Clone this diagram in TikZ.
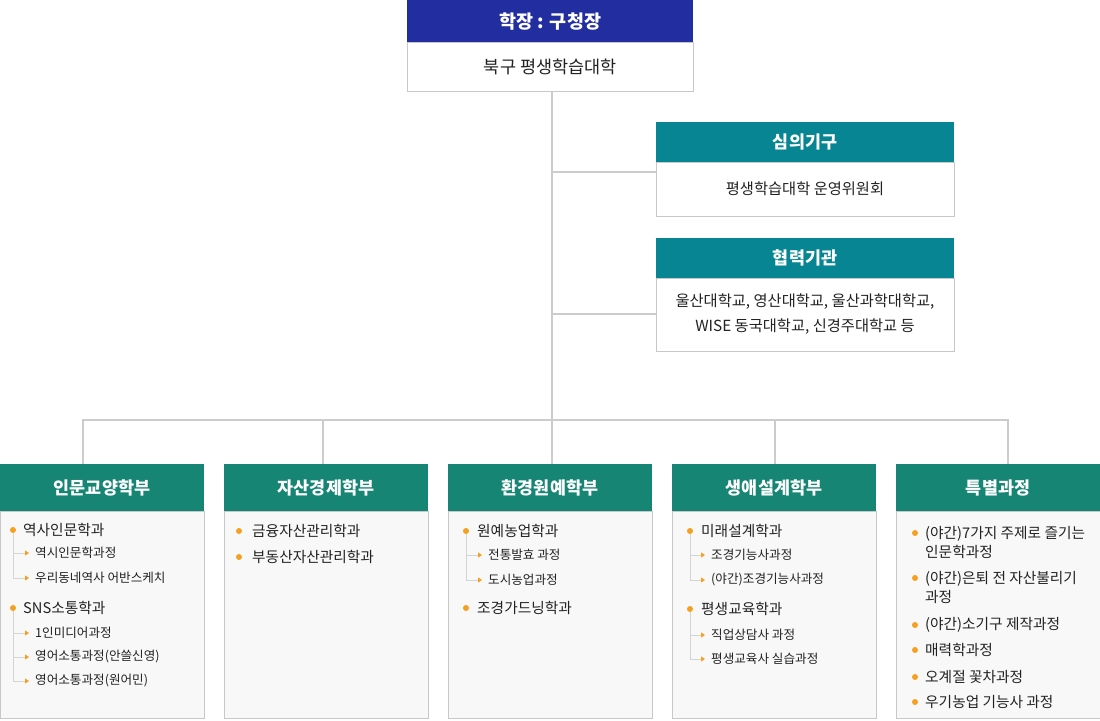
\documentclass[tikz,border=0pt]{standalone}
\usepackage{fontspec}
\setmainfont{Noto Sans CJK KR}
\usetikzlibrary{arrows.meta,calc}
\definecolor{topblue}{HTML}{222EA0}
\definecolor{teal}{HTML}{088592}
\definecolor{grn}{HTML}{168573}
\definecolor{bordergray}{HTML}{C8C8C8}
\definecolor{linegray}{HTML}{CCCCCC}
\definecolor{treegray}{HTML}{D4D4D4}
\definecolor{orng}{HTML}{F5A021}
\definecolor{bodyfill}{HTML}{F8F8F8}
\definecolor{txt}{HTML}{222222}
\tikzset{
  box/.style={inner sep=0pt, outer sep=0pt},
  hdr/.style={box, text=white, font=\fontsize{17.4}{20}\selectfont\bfseries},
  toph/.style={hdr, fill=topblue, minimum width=286pt, minimum height=43pt, font=\fontsize{18.5}{21}\selectfont\bfseries},
  topb/.style={box, draw=bordergray, line width=1pt, fill=white, minimum width=286pt, minimum height=49pt, text=txt, font=\fontsize{17.5}{20}\selectfont},
  sideh/.style={hdr, fill=teal, minimum width=298pt, minimum height=40pt},
  sideb/.style={box, draw=bordergray, line width=1pt, fill=white, minimum width=298pt, text=txt, font=\fontsize{15.3}{25}\selectfont, align=center},
  colh/.style={hdr, fill=grn, minimum width=204pt, minimum height=47pt},
  colb/.style={box, draw=bordergray, line width=1pt, fill=bodyfill, minimum width=204pt, minimum height=207pt},
  conn/.style={draw=linegray, line width=2pt},
  item/.style={anchor=west, inner sep=0pt, text=txt, font=\fontsize{14.7}{19.5}\selectfont, align=left},
  subitem/.style={anchor=west, inner sep=0pt, text=txt, font=\fontsize{12.6}{14}\selectfont},
  bul/.style={circle, fill=orng, inner sep=0pt, minimum size=6pt},
  tree/.style={draw=treegray, line width=0.9pt},
  subarrow/.style={tree, -{Triangle[color=orng, length=4pt, width=5pt]}},
}
\begin{document}
\begin{tikzpicture}[x=1pt,y=-1pt]
\useasboundingbox (0,0) rectangle (1100,720);
% top
\node[toph] (th) at (550.3,21.5) {학장 : 구청장};
\node[topb] (tb) at (550.3,67.3) {북구 평생학습대학};
% side boxes
\node[sideh] (sh) at (805,142) {심의기구};
\node[sideb, minimum height=54pt] (sb) at (805,189) {평생학습대학 운영위원회};
\node[sideh] (ch) at (805,258) {협력기관};
\node[sideb, minimum height=73pt] (cb) at (805,314.5) {울산대학교, 영산대학교, 울산과학대학교,\\WISE 동국대학교, 신경주대학교 등};
% column headers and bodies
\node[colh] (h1) at (102,487.5) {인문교양학부};
\node[colb] (c1) at (102,614.5) {};
\node[colh] (h2) at (326,487.5) {자산경제학부};
\node[colb] (c2) at (326,614.5) {};
\node[colh] (h3) at (550,487.5) {환경원예학부};
\node[colb] (c3) at (550,614.5) {};
\node[colh] (h4) at (774,487.5) {생애설계학부};
\node[colb] (c4) at (774,614.5) {};
\node[colh] (h5) at (998,487.5) {특별과정};
\node[colb] (c5) at (998,614.5) {};
% connectors
\coordinate (b1) at (83,420);
\coordinate (b2) at (323,420);
\coordinate (b3) at (552,420);
\coordinate (b4) at (775,420);
\coordinate (b5) at (1008,420);
\coordinate (j1) at (552,172);
\coordinate (j2) at (552,314);
\draw[conn] (tb.south -| b3) -- (b3);
\draw[conn] (j1) -- (j1 -| sb.west);
\draw[conn] (j2) -- (j2 -| cb.west);
\draw[conn, line cap=rect] (b1) -- (b5);
\draw[conn] (b1) -- (b1 |- h1.north);
\draw[conn] (b2) -- (b2 |- h2.north);
\draw[conn] (b3) -- (b3 |- h3.north);
\draw[conn] (b4) -- (b4 |- h4.north);
\draw[conn] (b5) -- (b5 |- h5.north);
% column 1
\node[bul] (p11) at (13,530) {};
\node[item] (t11) at (23,530) {역사인문학과};
\coordinate (a111) at (29,553); \node[subitem] (s111) at (35,553) {역시인문학과정};
\coordinate (a112) at (29,578); \node[subitem] (s112) at (35,578) {우리동네역사 어반스케치};
\draw[tree] (p11.south) -- (p11 |- a112);
\draw[subarrow] (p11 |- a111) -- (a111);
\draw[subarrow] (p11 |- a112) -- (a112);
\node[bul] (p12) at (13,608) {};
\node[item] (t12) at (23,608) {SNS소통학과};
\coordinate (a121) at (29,633); \node[subitem] (s121) at (35,633) {1인미디어과정};
\coordinate (a122) at (29,657); \node[subitem] (s122) at (35,657) {영어소통과정(안쓸신영)};
\coordinate (a123) at (29,681); \node[subitem] (s123) at (35,681) {영어소통과정(원어민)};
\draw[tree] (p12.south) -- (p12 |- a123);
\draw[subarrow] (p12 |- a121) -- (a121);
\draw[subarrow] (p12 |- a122) -- (a122);
\draw[subarrow] (p12 |- a123) -- (a123);
% column 2
\node[bul] (p21) at (239,531) {};
\node[item] (t21) at (252,531) {금융자산관리학과};
\node[bul] (p22) at (239,557) {};
\node[item] (t22) at (252,557) {부동산자산관리학과};
% column 3
\node[bul] (p31) at (466,531) {};
\node[item] (t31) at (477,531) {원예농업학과};
\coordinate (a311) at (482,555); \node[subitem] (s311) at (488,555) {전통발효 과정};
\coordinate (a312) at (482,580); \node[subitem] (s312) at (488,580) {도시농업과정};
\draw[tree] (p31.south) -- (p31 |- a312);
\draw[subarrow] (p31 |- a311) -- (a311);
\draw[subarrow] (p31 |- a312) -- (a312);
\node[bul] (p32) at (466,608) {};
\node[item] (t32) at (477,608) {조경가드닝학과};
% column 4
\node[bul] (p41) at (690,531) {};
\node[item] (t41) at (701,531) {미래설계학과};
\coordinate (a411) at (705,555); \node[subitem] (s411) at (711,555) {조경기능사과정};
\coordinate (a412) at (705,580); \node[subitem] (s412) at (711,580) {(야간)조경기능사과정};
\draw[tree] (p41.south) -- (p41 |- a412);
\draw[subarrow] (p41 |- a411) -- (a411);
\draw[subarrow] (p41 |- a412) -- (a412);
\node[bul] (p42) at (690,609) {};
\node[item] (t42) at (701,609) {평생교육학과};
\coordinate (a421) at (705,635); \node[subitem] (s421) at (711,635) {직업상담사 과정};
\coordinate (a422) at (705,659); \node[subitem] (s422) at (711,659) {평생교육사 실습과정};
\draw[tree] (p42.south) -- (p42 |- a422);
\draw[subarrow] (p42 |- a421) -- (a421);
\draw[subarrow] (p42 |- a422) -- (a422);
% column 5
\node[bul] (p51) at (915,533) {};
\node[item] (t51) at (925,542.5) {(야간)7가지 주제로 즐기는\\인문학과정};
\node[bul] (p52) at (915,578) {};
\node[item] (t52) at (925,587.5) {(야간)은퇴 전 자산불리기\\과정};
\node[bul] (p53) at (915,625) {};
\node[item] (t53) at (925,625) {(야간)소기구 제작과정};
\node[bul] (p54) at (915,650) {};
\node[item] (t54) at (925,650) {매력학과정};
\node[bul] (p55) at (915,677) {};
\node[item] (t55) at (925,677) {오계절 꽃차과정};
\node[bul] (p56) at (915,702) {};
\node[item] (t56) at (925,702) {우기농업 기능사 과정};
\end{tikzpicture}
\end{document}
